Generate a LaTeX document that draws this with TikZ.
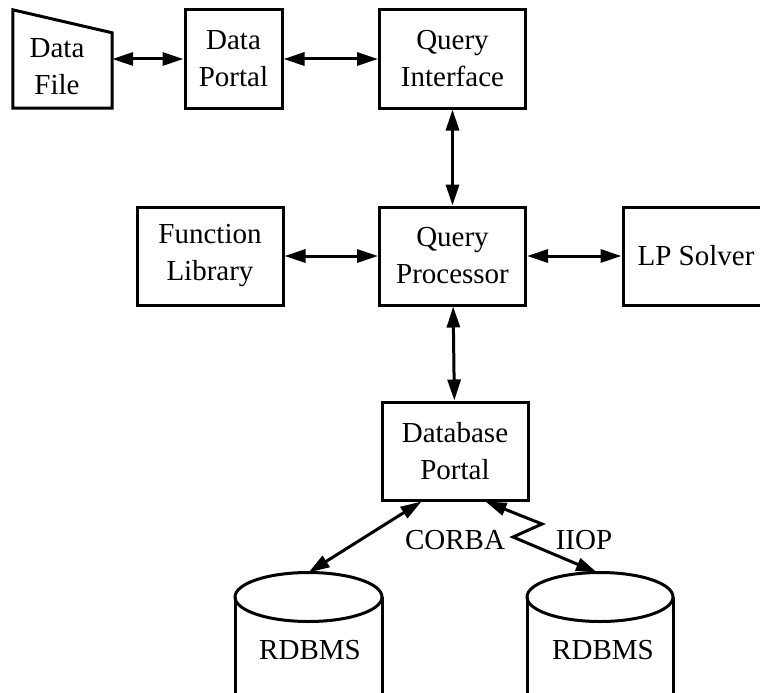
\documentclass[tikz,border=0pt]{standalone}
\usepackage{fontspec}
\setmainfont{Liberation Serif}
\usetikzlibrary{arrows.meta, positioning, calc}

\begin{document}
\begin{tikzpicture}[x=1pt, y=-1pt,
    font=\fontsize{29}{37}\selectfont,
    box/.style={draw, line width=3pt, minimum width=146pt, minimum height=98pt, align=center, inner sep=0pt},
    arr/.style={{Triangle[length=21pt,width=13pt]}-{Triangle[length=21pt,width=13pt]}, line width=3pt},
    outline/.style={line width=3pt, line join=miter}
  ]
  \useasboundingbox (0,0) rectangle (760,693);
  \clip (0,0) rectangle (760,693);
  % Data file (slanted top)
  \node[minimum width=99pt, minimum height=98pt, inner sep=0pt] (df) at (62.5,59) {};
  \draw[outline] (df.south west) -- (df.north west) -- ($(df.north east)+(0,23)$) -- (df.south east) -- cycle;
  \node[align=center] (dftext) at (57,67) {Data\\File};
  % Top row
  \node[box, minimum width=97pt] (dp) at (233.5,59) {Data\\Portal};
  \node[box] (qi) at (452.5,59) {Query\\Interface};
  % Middle row
  \node[box] (fl) at (210,256) {Function\\Library};
  \node[box] (qp) at (452.5,256) {Query\\Processor};
  \node[box] (lp) at (696,256) {LP Solver};
  % Database portal
  \node[box] (dbp) at (455,451) {Database\\Portal};
  % RDBMS cylinders
  \draw[outline] (308.5,597) ellipse [x radius=73.5pt, y radius=24.5pt];
  \draw[outline] (235,597) -- (235,700) (382,597) -- (382,700);
  \coordinate (db1top) at (308.5,572.5);
  \node (db1) at (310,650) {RDBMS};
  \draw[outline] (600,597) ellipse [x radius=73pt, y radius=24.5pt];
  \draw[outline] (527,597) -- (527,700) (673,597) -- (673,700);
  \coordinate (db2top) at (597,572.5);
  \node (db2) at (603,650) {RDBMS};
  % arrows
  \draw[arr] (df.east) -- (dp);
  \draw[arr] (dp) -- (qi);
  \draw[arr] (qi) -- (qp);
  \draw[arr] (fl) -- (qp);
  \draw[arr] (qp) -- (lp);
  \draw[arr] (qp) -- (dbp);
  \draw[arr] ($(dbp.south west)+(41,0)$) -- (db1top);
  % lightning link
  \coordinate (zz1) at (542,524);
  \coordinate (zz2) at (513,537);
  \draw[arr, line join=miter] ($(dbp.south west)+(105,0)$) -- (zz1) -- (zz2) -- (db2top);
  \node (corba) at (455,540) {CORBA};
  \node (iiop) at (584,540) {IIOP};
\end{tikzpicture}
\end{document}
